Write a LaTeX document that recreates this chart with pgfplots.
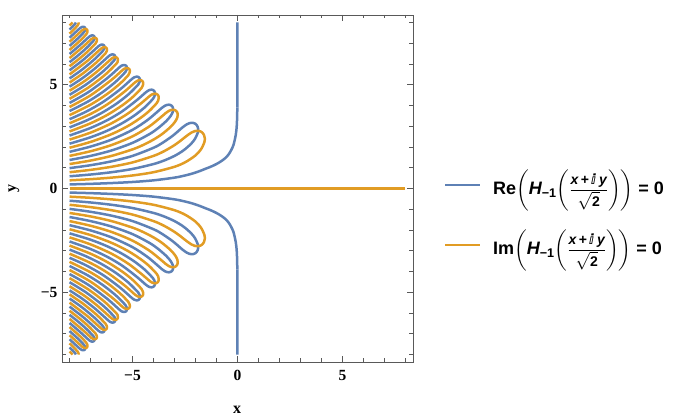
\documentclass[border=0pt]{standalone}
\usepackage{amsmath}
\usepackage{fontspec}
\setmainfont{Liberation Sans}
\newfontfamily\tnr{Liberation Serif}
\newfontfamily\dejavu{DejaVu Sans}
\usepackage{pgfplots}
\pgfplotsset{compat=1.18}
\definecolor{mblue}{RGB}{94,129,181}
\definecolor{morange}{RGB}{225,156,36}
\definecolor{frameg}{gray}{0.35}
\pgfplotsset{
  re/.style={color=mblue, line width=2.5bp, smooth, no marks, forget plot},
  im/.style={color=morange, line width=2.5bp, smooth, no marks, forget plot},
  reS/.style={color=mblue, line width=2.5bp, no marks, forget plot},
}
\newcommand{\fr}{\fontsize{14bp}{15bp}\selectfont}
\newcommand{\legfrac}{\frac{\raisebox{3.5bp}{\fr\bfseries\itshape x\,+\,{\dejavu\bfseries ⅈ}\hspace{3bp}y}}{\raisebox{-3bp}{$\sqrt{\text{\fr\bfseries 2}}$}}}
\begin{document}
\begin{tikzpicture}
\begin{axis}[
  at={(62bp,53bp)}, anchor=south west,
  scale only axis, width=351bp, height=347bp,
  xmin=-8.36, xmax=8.36, ymin=-8.36, ymax=8.36,
  axis line style={frameg, line width=0.8bp},
  tick style={frameg, line width=0.7bp},
  tick align=inside,
  major tick length=6bp, minor tick length=3.5bp,
  xtick={-5,0,5}, ytick={-5,0,5},
  xticklabels={{−5},{0},{5}}, yticklabels={{−5},{0},{5}},
  minor xtick={-8,-7,-6,-4,-3,-2,-1,1,2,3,4,6,7,8},
  minor ytick={-8,-7,-6,-4,-3,-2,-1,1,2,3,4,6,7,8},
  ticklabel style={font=\fontsize{15.5bp}{18bp}\selectfont\tnr\bfseries},
  xticklabel style={yshift=-5bp},
  yticklabel style={xshift=-1bp},
]
% ---------------- Re = 0 (blue) ----------------
\addplot[re] coordinates {(-8,0.196) (-7,0.224) (-6,0.262) (-5,0.314) (-4,0.393) (-3,0.523) (-2.5,0.627) (-2.1,0.735) (-1.8,0.84) (-1.5,0.96) (-1.25,1.06) (-1.0,1.18) (-0.8,1.3) (-0.6,1.45) (-0.43,1.63) (-0.3,1.85) (-0.2,2.07) (-0.14,2.3) (-0.08,2.6) (-0.04,2.95) (-0.02,3.35) (-0.008,3.9)};
\addplot[reS] coordinates {(-0.008,3.9) (-0.002,4.8) (0,6) (0,8)};
\addplot[re] coordinates {(-8,-0.196) (-7,-0.224) (-6,-0.262) (-5,-0.314) (-4,-0.393) (-3,-0.523) (-2.5,-0.627) (-2.1,-0.735) (-1.8,-0.84) (-1.5,-0.96) (-1.25,-1.06) (-1.0,-1.18) (-0.8,-1.3) (-0.6,-1.45) (-0.43,-1.63) (-0.3,-1.85) (-0.2,-2.07) (-0.14,-2.3) (-0.08,-2.6) (-0.04,-2.95) (-0.02,-3.35) (-0.008,-3.9)};
\addplot[reS] coordinates {(-0.008,-3.9) (-0.002,-4.8) (0,-6) (0,-8)};
% upper loops
\addplot[re] coordinates {(-8,0.982) (-7,1.122) (-6,1.309) (-5,1.571) (-4,1.963) (-3.6,2.182) (-3.110,2.522) (-2.822,2.766) (-2.631,2.934) (-2.420,3.089) (-2.287,3.149) (-2.177,3.167) (-2.090,3.156) (-2.013,3.121) (-1.949,3.063) (-1.901,2.984) (-1.873,2.863) (-1.889,2.694) (-2.019,2.401) (-2.218,2.147) (-2.581,1.830) (-3,1.571) (-3.5,1.346) (-4,1.178) (-5,0.942) (-6,0.785) (-7,0.673) (-8,0.589)};
\addplot[re] coordinates {(-8,1.767) (-7,2.020) (-6,2.356) (-5,2.827) (-4.3,3.288) (-3.820,3.693) (-3.607,3.881) (-3.447,3.992) (-3.346,4.031) (-3.264,4.038) (-3.201,4.024) (-3.147,3.994) (-3.104,3.948) (-3.076,3.887) (-3.065,3.800) (-3.086,3.685) (-3.186,3.493) (-3.393,3.250) (-3.8,2.894) (-4.2,2.618) (-5,2.199) (-6,1.833) (-7,1.571) (-8,1.374)};
\addplot[re] coordinates {(-8,2.553) (-7,2.917) (-6.2,3.294) (-5.5,3.713) (-4.8,4.254) (-4.378,4.625) (-4.244,4.723) (-4.158,4.756) (-4.088,4.761) (-4.036,4.749) (-3.992,4.722) (-3.959,4.683) (-3.937,4.633) (-3.931,4.564) (-3.949,4.474) (-4.024,4.325) (-4.4,3.927) (-4.9,3.526) (-5.5,3.142) (-6.2,2.787) (-7,2.468) (-8,2.160)};
\addplot[re] coordinates {(-8,3.338) (-7.2,3.709) (-6.4,4.173) (-5.6,4.769) (-5.033,5.274) (-4.915,5.357) (-4.839,5.384) (-4.779,5.388) (-4.734,5.376) (-4.696,5.352) (-4.668,5.318) (-4.650,5.274) (-4.645,5.214) (-4.663,5.136) (-4.730,5.008) (-5.2,4.531) (-5.8,4.062) (-6.5,3.625) (-7.2,3.273) (-8,2.945)};
\addplot[re] coordinates {(-8,4.123) (-7.1,4.646) (-6.2,5.320) (-5.612,5.849) (-5.506,5.923) (-5.438,5.946) (-5.384,5.949) (-5.344,5.938) (-5.310,5.916) (-5.285,5.885) (-5.270,5.846) (-5.266,5.792) (-5.282,5.722) (-5.344,5.608) (-5.8,5.146) (-6.4,4.663) (-7.1,4.204) (-8,3.731)};
\addplot[re] coordinates {(-8,4.909) (-7.4,5.307) (-6.8,5.775) (-6.140,6.370) (-6.042,6.437) (-5.980,6.458) (-5.930,6.459) (-5.893,6.449) (-5.863,6.429) (-5.840,6.400) (-5.827,6.365) (-5.824,6.315) (-5.839,6.252) (-5.896,6.148) (-6.4,5.645) (-7.2,5.018) (-8,4.516)};
\addplot[re] coordinates {(-8,5.694) (-7.4,6.156) (-6.95,6.554) (-6.627,6.852) (-6.536,6.913) (-6.478,6.932) (-6.432,6.934) (-6.398,6.924) (-6.370,6.905) (-6.349,6.878) (-6.337,6.845) (-6.334,6.800) (-6.349,6.741) (-6.402,6.645) (-6.8,6.237) (-7.4,5.731) (-8,5.302)};
\addplot[re] coordinates {(-8,6.480) (-7.5,6.911) (-7.080,7.301) (-6.995,7.357) (-6.941,7.375) (-6.898,7.376) (-6.866,7.367) (-6.840,7.349) (-6.821,7.324) (-6.809,7.293) (-6.807,7.250) (-6.821,7.195) (-6.871,7.106) (-7.2,6.763) (-7.6,6.407) (-8,6.087)};
\addplot[re] coordinates {(-8,7.265) (-7.75,7.499) (-7.508,7.722) (-7.427,7.775) (-7.376,7.792) (-7.336,7.793) (-7.306,7.784) (-7.281,7.767) (-7.263,7.743) (-7.252,7.714) (-7.250,7.674) (-7.263,7.622) (-7.311,7.538) (-7.48,7.350) (-7.65,7.187) (-8,6.872)};
\addplot[re] coordinates {(-7.700,8.0) (-7.726,7.946) (-7.85,7.804) (-8,7.658)};
% lower loops
\addplot[re] coordinates {(-8,-0.982) (-7,-1.122) (-6,-1.309) (-5,-1.571) (-4,-1.963) (-3.6,-2.182) (-3.110,-2.522) (-2.822,-2.766) (-2.631,-2.934) (-2.420,-3.089) (-2.287,-3.149) (-2.177,-3.167) (-2.090,-3.156) (-2.013,-3.121) (-1.949,-3.063) (-1.901,-2.984) (-1.873,-2.863) (-1.889,-2.694) (-2.019,-2.401) (-2.218,-2.147) (-2.581,-1.830) (-3,-1.571) (-3.5,-1.346) (-4,-1.178) (-5,-0.942) (-6,-0.785) (-7,-0.673) (-8,-0.589)};
\addplot[re] coordinates {(-8,-1.767) (-7,-2.020) (-6,-2.356) (-5,-2.827) (-4.3,-3.288) (-3.820,-3.693) (-3.607,-3.881) (-3.447,-3.992) (-3.346,-4.031) (-3.264,-4.038) (-3.201,-4.024) (-3.147,-3.994) (-3.104,-3.948) (-3.076,-3.887) (-3.065,-3.800) (-3.086,-3.685) (-3.186,-3.493) (-3.393,-3.250) (-3.8,-2.894) (-4.2,-2.618) (-5,-2.199) (-6,-1.833) (-7,-1.571) (-8,-1.374)};
\addplot[re] coordinates {(-8,-2.553) (-7,-2.917) (-6.2,-3.294) (-5.5,-3.713) (-4.8,-4.254) (-4.378,-4.625) (-4.244,-4.723) (-4.158,-4.756) (-4.088,-4.761) (-4.036,-4.749) (-3.992,-4.722) (-3.959,-4.683) (-3.937,-4.633) (-3.931,-4.564) (-3.949,-4.474) (-4.024,-4.325) (-4.4,-3.927) (-4.9,-3.526) (-5.5,-3.142) (-6.2,-2.787) (-7,-2.468) (-8,-2.160)};
\addplot[re] coordinates {(-8,-3.338) (-7.2,-3.709) (-6.4,-4.173) (-5.6,-4.769) (-5.033,-5.274) (-4.915,-5.357) (-4.839,-5.384) (-4.779,-5.388) (-4.734,-5.376) (-4.696,-5.352) (-4.668,-5.318) (-4.650,-5.274) (-4.645,-5.214) (-4.663,-5.136) (-4.730,-5.008) (-5.2,-4.531) (-5.8,-4.062) (-6.5,-3.625) (-7.2,-3.273) (-8,-2.945)};
\addplot[re] coordinates {(-8,-4.123) (-7.1,-4.646) (-6.2,-5.320) (-5.612,-5.849) (-5.506,-5.923) (-5.438,-5.946) (-5.384,-5.949) (-5.344,-5.938) (-5.310,-5.916) (-5.285,-5.885) (-5.270,-5.846) (-5.266,-5.792) (-5.282,-5.722) (-5.344,-5.608) (-5.8,-5.146) (-6.4,-4.663) (-7.1,-4.204) (-8,-3.731)};
\addplot[re] coordinates {(-8,-4.909) (-7.4,-5.307) (-6.8,-5.775) (-6.140,-6.370) (-6.042,-6.437) (-5.980,-6.458) (-5.930,-6.459) (-5.893,-6.449) (-5.863,-6.429) (-5.840,-6.400) (-5.827,-6.365) (-5.824,-6.315) (-5.839,-6.252) (-5.896,-6.148) (-6.4,-5.645) (-7.2,-5.018) (-8,-4.516)};
\addplot[re] coordinates {(-8,-5.694) (-7.4,-6.156) (-6.95,-6.554) (-6.627,-6.852) (-6.536,-6.913) (-6.478,-6.932) (-6.432,-6.934) (-6.398,-6.924) (-6.370,-6.905) (-6.349,-6.878) (-6.337,-6.845) (-6.334,-6.800) (-6.349,-6.741) (-6.402,-6.645) (-6.8,-6.237) (-7.4,-5.731) (-8,-5.302)};
\addplot[re] coordinates {(-8,-6.480) (-7.5,-6.911) (-7.080,-7.301) (-6.995,-7.357) (-6.941,-7.375) (-6.898,-7.376) (-6.866,-7.367) (-6.840,-7.349) (-6.821,-7.324) (-6.809,-7.293) (-6.807,-7.250) (-6.821,-7.195) (-6.871,-7.106) (-7.2,-6.763) (-7.6,-6.407) (-8,-6.087)};
\addplot[re] coordinates {(-8,-7.265) (-7.75,-7.499) (-7.508,-7.722) (-7.427,-7.775) (-7.376,-7.792) (-7.336,-7.793) (-7.306,-7.784) (-7.281,-7.767) (-7.263,-7.743) (-7.252,-7.714) (-7.250,-7.674) (-7.263,-7.622) (-7.311,-7.538) (-7.48,-7.350) (-7.65,-7.187) (-8,-6.872)};
\addplot[re] coordinates {(-7.700,-8.0) (-7.726,-7.946) (-7.85,-7.804) (-8,-7.658)};
% ---------------- Im = 0 (orange) ----------------
\addplot[im] coordinates {(-8,0) (8,0)};
% upper loops
\addplot[im] coordinates {(-8,0.785) (-7,0.898) (-6,1.047) (-5,1.257) (-4,1.571) (-3.5,1.795) (-2.988,2.099) (-2.653,2.349) (-2.431,2.528) (-2.190,2.697) (-2.038,2.763) (-1.913,2.782) (-1.814,2.770) (-1.7255,2.731) (-1.650,2.665) (-1.594,2.573) (-1.560,2.432) (-1.578,2.229) (-1.745,1.878) (-2.010,1.587) (-2.478,1.272) (-3,1.047) (-4,0.785) (-5,0.628) (-6,0.524) (-7,0.449) (-8,0.393)};
\addplot[im] coordinates {(-8,1.571) (-7,1.795) (-6,2.094) (-5,2.513) (-4.2,2.992) (-3.653,3.432) (-3.426,3.629) (-3.255,3.746) (-3.147,3.787) (-3.059,3.794) (-2.992,3.780) (-2.934,3.747) (-2.888,3.699) (-2.858,3.634) (-2.846,3.541) (-2.869,3.416) (-2.978,3.210) (-3.205,2.950) (-3.6,2.618) (-4,2.356) (-4.5,2.094) (-5,1.885) (-6,1.571) (-7,1.346) (-8,1.178)};
\addplot[im] coordinates {(-8,2.356) (-7,2.693) (-6,3.142) (-5.2,3.625) (-4.6,4.098) (-4.219,4.426) (-4.079,4.529) (-3.989,4.563) (-3.917,4.569) (-3.862,4.556) (-3.816,4.528) (-3.781,4.487) (-3.759,4.436) (-3.752,4.363) (-3.771,4.269) (-3.848,4.114) (-4.2,3.740) (-4.6,3.415) (-5.2,3.021) (-6,2.618) (-7,2.244) (-8,1.963)};
\addplot[im] coordinates {(-8,3.142) (-7,3.590) (-6.2,4.054) (-5.4,4.654) (-4.891,5.106) (-4.769,5.192) (-4.691,5.220) (-4.629,5.224) (-4.582,5.212) (-4.543,5.187) (-4.514,5.152) (-4.495,5.107) (-4.491,5.045) (-4.508,4.965) (-4.578,4.832) (-5,4.398) (-5.5,3.998) (-6.2,3.547) (-7,3.142) (-8,2.749)};
\addplot[im] coordinates {(-8,3.927) (-7,4.488) (-6,5.236) (-5.483,5.700) (-5.374,5.776) (-5.304,5.800) (-5.249,5.802) (-5.207,5.791) (-5.173,5.769) (-5.147,5.737) (-5.131,5.697) (-5.128,5.642) (-5.144,5.570) (-5.207,5.453) (-5.6,5.049) (-6.2,4.560) (-7,4.039) (-8,3.534)};
\addplot[im] coordinates {(-8,4.712) (-7.3,5.164) (-6.7,5.627) (-6.021,6.237) (-5.921,6.305) (-5.857,6.326) (-5.807,6.328) (-5.769,6.317) (-5.738,6.297) (-5.715,6.268) (-5.701,6.231) (-5.698,6.181) (-5.713,6.116) (-5.772,6.010) (-6.3,5.485) (-7.1,4.867) (-8,4.320)};
\addplot[im] coordinates {(-8,5.498) (-7.2,6.109) (-6.85,6.421) (-6.514,6.728) (-6.422,6.790) (-6.363,6.810) (-6.316,6.811) (-6.282,6.801) (-6.253,6.782) (-6.232,6.755) (-6.219,6.721) (-6.216,6.675) (-6.231,6.615) (-6.286,6.517) (-6.6,6.188) (-6.9,5.919) (-7.4,5.519) (-8,5.105)};
\addplot[im] coordinates {(-8,6.283) (-7.35,6.839) (-6.975,7.186) (-6.888,7.243) (-6.834,7.261) (-6.790,7.262) (-6.758,7.253) (-6.731,7.235) (-6.711,7.210) (-6.699,7.178) (-6.697,7.135) (-6.711,7.079) (-6.763,6.988) (-7.1,6.637) (-7.5,6.283) (-8,5.891)};
\addplot[im] coordinates {(-8,7.069) (-7.7,7.344) (-7.407,7.614) (-7.325,7.668) (-7.273,7.685) (-7.233,7.686) (-7.202,7.677) (-7.177,7.660) (-7.158,7.636) (-7.148,7.606) (-7.146,7.565) (-7.159,7.513) (-7.208,7.427) (-7.4,7.217) (-7.6,7.027) (-8,6.676)};
\addplot[im] coordinates {(-7.570,8.0) (-7.569,7.973) (-7.581,7.923) (-7.628,7.843) (-7.8,7.653) (-8,7.461)};
\addplot[im] coordinates {(-8,7.854) (-7.93,7.923) (-7.854,8.0)};
% lower loops
\addplot[im] coordinates {(-8,-0.785) (-7,-0.898) (-6,-1.047) (-5,-1.257) (-4,-1.571) (-3.5,-1.795) (-2.988,-2.099) (-2.653,-2.349) (-2.431,-2.528) (-2.190,-2.697) (-2.038,-2.763) (-1.913,-2.782) (-1.814,-2.770) (-1.7255,-2.731) (-1.650,-2.665) (-1.594,-2.573) (-1.560,-2.432) (-1.578,-2.229) (-1.745,-1.878) (-2.010,-1.587) (-2.478,-1.272) (-3,-1.047) (-4,-0.785) (-5,-0.628) (-6,-0.524) (-7,-0.449) (-8,-0.393)};
\addplot[im] coordinates {(-8,-1.571) (-7,-1.795) (-6,-2.094) (-5,-2.513) (-4.2,-2.992) (-3.653,-3.432) (-3.426,-3.629) (-3.255,-3.746) (-3.147,-3.787) (-3.059,-3.794) (-2.992,-3.780) (-2.934,-3.747) (-2.888,-3.699) (-2.858,-3.634) (-2.846,-3.541) (-2.869,-3.416) (-2.978,-3.210) (-3.205,-2.950) (-3.6,-2.618) (-4,-2.356) (-4.5,-2.094) (-5,-1.885) (-6,-1.571) (-7,-1.346) (-8,-1.178)};
\addplot[im] coordinates {(-8,-2.356) (-7,-2.693) (-6,-3.142) (-5.2,-3.625) (-4.6,-4.098) (-4.219,-4.426) (-4.079,-4.529) (-3.989,-4.563) (-3.917,-4.569) (-3.862,-4.556) (-3.816,-4.528) (-3.781,-4.487) (-3.759,-4.436) (-3.752,-4.363) (-3.771,-4.269) (-3.848,-4.114) (-4.2,-3.740) (-4.6,-3.415) (-5.2,-3.021) (-6,-2.618) (-7,-2.244) (-8,-1.963)};
\addplot[im] coordinates {(-8,-3.142) (-7,-3.590) (-6.2,-4.054) (-5.4,-4.654) (-4.891,-5.106) (-4.769,-5.192) (-4.691,-5.220) (-4.629,-5.224) (-4.582,-5.212) (-4.543,-5.187) (-4.514,-5.152) (-4.495,-5.107) (-4.491,-5.045) (-4.508,-4.965) (-4.578,-4.832) (-5,-4.398) (-5.5,-3.998) (-6.2,-3.547) (-7,-3.142) (-8,-2.749)};
\addplot[im] coordinates {(-8,-3.927) (-7,-4.488) (-6,-5.236) (-5.483,-5.700) (-5.374,-5.776) (-5.304,-5.800) (-5.249,-5.802) (-5.207,-5.791) (-5.173,-5.769) (-5.147,-5.737) (-5.131,-5.697) (-5.128,-5.642) (-5.144,-5.570) (-5.207,-5.453) (-5.6,-5.049) (-6.2,-4.560) (-7,-4.039) (-8,-3.534)};
\addplot[im] coordinates {(-8,-4.712) (-7.3,-5.164) (-6.7,-5.627) (-6.021,-6.237) (-5.921,-6.305) (-5.857,-6.326) (-5.807,-6.328) (-5.769,-6.317) (-5.738,-6.297) (-5.715,-6.268) (-5.701,-6.231) (-5.698,-6.181) (-5.713,-6.116) (-5.772,-6.010) (-6.3,-5.485) (-7.1,-4.867) (-8,-4.320)};
\addplot[im] coordinates {(-8,-5.498) (-7.2,-6.109) (-6.85,-6.421) (-6.514,-6.728) (-6.422,-6.790) (-6.363,-6.810) (-6.316,-6.811) (-6.282,-6.801) (-6.253,-6.782) (-6.232,-6.755) (-6.219,-6.721) (-6.216,-6.675) (-6.231,-6.615) (-6.286,-6.517) (-6.6,-6.188) (-6.9,-5.919) (-7.4,-5.519) (-8,-5.105)};
\addplot[im] coordinates {(-8,-6.283) (-7.35,-6.839) (-6.975,-7.186) (-6.888,-7.243) (-6.834,-7.261) (-6.790,-7.262) (-6.758,-7.253) (-6.731,-7.235) (-6.711,-7.210) (-6.699,-7.178) (-6.697,-7.135) (-6.711,-7.079) (-6.763,-6.988) (-7.1,-6.637) (-7.5,-6.283) (-8,-5.891)};
\addplot[im] coordinates {(-8,-7.069) (-7.7,-7.344) (-7.407,-7.614) (-7.325,-7.668) (-7.273,-7.685) (-7.233,-7.686) (-7.202,-7.677) (-7.177,-7.660) (-7.158,-7.636) (-7.148,-7.606) (-7.146,-7.565) (-7.159,-7.513) (-7.208,-7.427) (-7.4,-7.217) (-7.6,-7.027) (-8,-6.676)};
\addplot[im] coordinates {(-7.570,-8.0) (-7.569,-7.973) (-7.581,-7.923) (-7.628,-7.843) (-7.8,-7.653) (-8,-7.461)};
\addplot[im] coordinates {(-8,-7.854) (-7.93,-7.923) (-7.854,-8.0)};
\end{axis}
% axis labels
\node[rotate=90, font=\fontsize{16bp}{18bp}\selectfont\tnr\bfseries] at (14bp,226.5bp) {y};
\node[anchor=base, font=\fontsize{16bp}{18bp}\selectfont\tnr\bfseries] at (237bp,2bp) {x};
% legend
\draw[mblue, line width=2.5bp] (445bp,230bp) -- (480bp,230bp);
\draw[morange, line width=2.5bp] (445bp,170bp) -- (480bp,170bp);
\node[anchor=base west, inner sep=0pt, font=\fontsize{18bp}{20bp}\selectfont] at (493bp,220bp)
  {\textbf{Re}$\left(\text{\bfseries\itshape H}_{\text{\bfseries −1}}\!\left(\legfrac\right)\right)$\textbf{\ =\ 0}};
\node[anchor=base west, inner sep=0pt, font=\fontsize{18bp}{20bp}\selectfont] at (493bp,160bp)
  {\textbf{Im}$\left(\text{\bfseries\itshape H}_{\text{\bfseries −1}}\!\left(\legfrac\right)\right)$\textbf{\ =\ 0}};
\pgfresetboundingbox
\path (0,0) rectangle (674bp,415bp);
\end{tikzpicture}
\end{document}
